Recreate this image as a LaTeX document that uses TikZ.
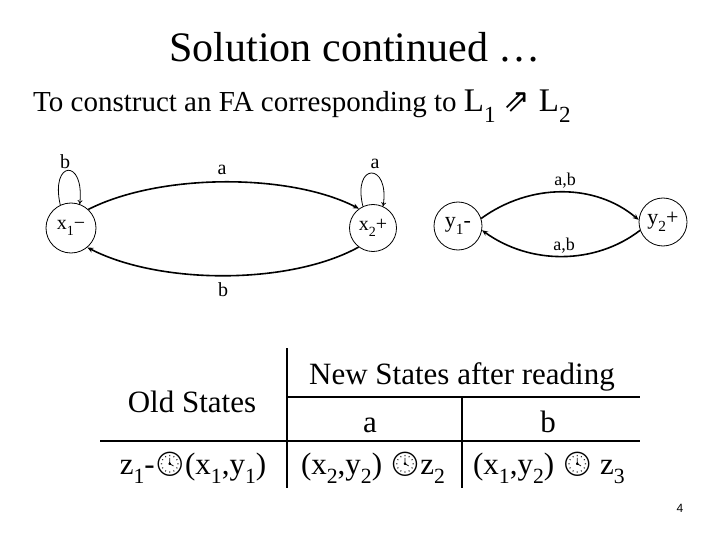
\documentclass[tikz,border=0pt]{standalone}
\usepackage{fontspec}
\setmainfont{Liberation Serif}
\newfontfamily\emo{Noto Emoji}
\newfontfamily\dejavu{DejaVu Sans}
\newfontfamily\arialf{Liberation Sans}
\usetikzlibrary{arrows.meta,shapes.geometric}
\makeatletter
\newcommand{\sbs}[1]{{\check@mathfonts\raisebox{-0.32em}{\fontsize{\sf@size}{\sf@size}\selectfont #1}}}
\makeatother
\newcommand{\clk}{\raisebox{0.05em}{\fontsize{24}{24}\selectfont\emo 🕓}}
\begin{document}
\begin{tikzpicture}[x=1pt,y=-1pt,
  state/.style={circle,draw,line width=0.8pt,minimum size=50pt,inner sep=0pt,font=\fontsize{20}{20}\selectfont},
  trans/.style={line width=1.6pt,-{Stealth[length=6pt,width=5pt]}},
  loope/.style={line width=0.8pt,-{To[length=4pt,width=5pt]}},
  lbl/.style={font=\fontsize{20}{20}\selectfont,inner sep=0pt},
  slbl/.style={font=\fontsize{18}{18}\selectfont,inner sep=0pt},
  txt/.style={font=\fontsize{31}{31}\selectfont,inner sep=0pt,anchor=base},
  rule/.style={line width=1.5pt}]
\useasboundingbox (0,0) rectangle (720,540);
\fill[white] (0,0) rectangle (720,540);

\node[font=\fontsize{42}{42}\selectfont,anchor=base,inner sep=0pt] (title) at (355,62) {Solution continued …};
\node[font=\fontsize{29}{29}\selectfont,anchor=base west,inner sep=0pt] (sub) at (33,112)
  {To construct an FA corresponding to {\fontsize{33}{33}\selectfont L\sbs{1} {\dejavu\fontsize{32}{32}\selectfont ⇗} L\sbs{2}}};

% states
\node[state] (x1) at (71,228) {x\sbs{1}−};
\node[state,minimum size=47pt] (x2) at (373,228) {x\sbs{2}+};
\node[state,minimum size=48pt,font=\fontsize{22}{22}\selectfont] (y1) at (458,226) {y\sbs{1}-};
\node[state,minimum size=48pt,font=\fontsize{22}{22}\selectfont] (y2) at (663,222) {y\sbs{2}+};

% transitions
\draw[trans] (x1.47) .. controls (160,173) and (290,173) .. (x2.126);
\node[lbl] (la) at (222,170) {a};
\draw[trans] (x2.233) .. controls (290,285) and (160,285) .. (x1.310);
\node[lbl] (lb) at (223,290) {b};
\draw[loope] (x1.115) .. controls (50,160) and (85,158) .. (x1.70);
\node[lbl] (lb1) at (65,162) {b};
\draw[loope] (x2.115) .. controls (352,162) and (390,162) .. (x2.65);
\node[lbl] (la2) at (375,164) {a};
\draw[trans] (y1.18) .. controls (530,183) and (595,183) .. (y2.175);
\node[slbl] (lab1) at (565,181) {a,b};
\draw[trans] (y2.200) .. controls (595,265) and (530,265) .. (y1.-10);
\node[slbl] (lab2) at (564,246) {a,b};

% table
\draw[rule] (287,348) -- (287,488);
\draw[rule] (287,397) -- (640,397);
\draw[rule] (100,441) -- (640,441);
\draw[rule] (462,397) -- (462,488);
\node[txt] (old) at (192,412) {Old States};
\node[txt] (new) at (462,384) {New States after reading};
\node[txt] (ca) at (370,432) {a};
\node[txt] (cb) at (548,432) {b};
\node[txt] (r0) at (193,474) {z\sbs{1}-\clk(x\sbs{1},y\sbs{1})};
\node[txt] (r1) at (373,474) {(x\sbs{2},y\sbs{2}) \clk z\sbs{2}};
\node[txt] (r2) at (549,474) {(x\sbs{1},y\sbs{2}) \clk{} z\sbs{3}};

\node[font=\arialf\fontsize{12}{12}\selectfont,inner sep=0pt] (pg) at (680,508) {4};
\end{tikzpicture}
\end{document}
